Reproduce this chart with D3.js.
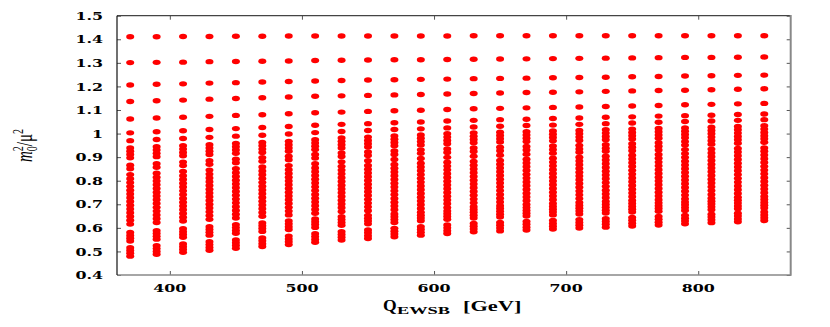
<!DOCTYPE html>
<html>
<head>
<meta charset="utf-8">
<script src="https://cdn.jsdelivr.net/npm/d3@7"></script>
<style>
    body { margin: 0; background: #fff; }
</style>
</head>
<body>
<div id="chart"></div>
<script>
// Q_EWSB columns (GeV)
const qValues = [370, 390, 410, 430, 450, 470, 490, 510, 530, 550, 570, 590, 610,
    630, 650, 670, 690, 710, 730, 750, 770, 790, 810, 830, 850];

const xTicks = [400, 500, 600, 700, 800];
const yTicks = [0.4, 0.5, 0.6, 0.7, 0.8, 0.9, 1.0, 1.1, 1.2, 1.3, 1.4, 1.5];

// m0^2/mu^2 for each scan point, traced across the Q columns
const top1 = [1.411, 1.411, 1.412, 1.412, 1.413, 1.413, 1.414, 1.414, 1.414, 1.414, 1.414, 1.414, 1.414,
    1.415, 1.415, 1.415, 1.415, 1.415, 1.415, 1.415, 1.415, 1.415, 1.415, 1.415, 1.415];
const top2 = [1.301, 1.302, 1.303, 1.305, 1.306, 1.307, 1.308, 1.310, 1.311, 1.312, 1.313, 1.313, 1.314,
    1.315, 1.316, 1.317, 1.318, 1.319, 1.320, 1.321, 1.322, 1.323, 1.323, 1.324, 1.325];
const top3 = [1.206, 1.209, 1.211, 1.214, 1.216, 1.219, 1.221, 1.223, 1.225, 1.227, 1.228, 1.230, 1.231,
    1.233, 1.234, 1.235, 1.237, 1.238, 1.239, 1.241, 1.242, 1.244, 1.245, 1.247, 1.248];
const top4 = [1.136, 1.139, 1.142, 1.146, 1.149, 1.152, 1.155, 1.158, 1.160, 1.162, 1.164, 1.166, 1.168,
    1.170, 1.172, 1.174, 1.175, 1.177, 1.179, 1.181, 1.183, 1.184, 1.186, 1.188, 1.190];
const top5 = [1.062, 1.066, 1.069, 1.073, 1.077, 1.080, 1.084, 1.088, 1.091, 1.094, 1.097, 1.099, 1.102,
    1.105, 1.107, 1.109, 1.111, 1.113, 1.115, 1.117, 1.119, 1.122, 1.124, 1.126, 1.128];
const top6 = [1.003, 1.008, 1.012, 1.017, 1.021, 1.026, 1.030, 1.035, 1.039, 1.042, 1.046, 1.049, 1.053,
    1.056, 1.059, 1.061, 1.064, 1.066, 1.069, 1.071, 1.074, 1.076, 1.078, 1.081, 1.083];
const top7 = [0.970, 0.975, 0.979, 0.984, 0.989, 0.993, 0.998, 1.004, 1.009, 1.013, 1.017, 1.020, 1.024,
    1.028, 1.031, 1.034, 1.036, 1.039, 1.042, 1.045, 1.048, 1.051, 1.053, 1.056, 1.059];

const upper1 = [0.939, 0.944, 0.948, 0.953, 0.958, 0.962, 0.967, 0.974, 0.981, 0.985, 0.990, 0.994, 0.999,
    1.003, 1.006, 1.008, 1.011, 1.013, 1.016, 1.019, 1.022, 1.024, 1.027, 1.030, 1.033];
const upper2 = [0.925, 0.930, 0.934, 0.939, 0.944, 0.948, 0.953, 0.960, 0.967, 0.971, 0.976, 0.980, 0.985,
    0.989, 0.992, 0.994, 0.997, 0.999, 1.002, 1.005, 1.008, 1.010, 1.013, 1.016, 1.019];
const upper3 = [0.911, 0.916, 0.920, 0.925, 0.930, 0.934, 0.939, 0.946, 0.953, 0.957, 0.962, 0.966, 0.971,
    0.975, 0.978, 0.980, 0.983, 0.985, 0.988, 0.991, 0.994, 0.996, 0.999, 1.002, 1.005];
const upper4 = [0.897, 0.902, 0.906, 0.911, 0.916, 0.920, 0.925, 0.932, 0.939, 0.943, 0.948, 0.952, 0.957,
    0.961, 0.964, 0.966, 0.969, 0.971, 0.974, 0.977, 0.980, 0.982, 0.985, 0.988, 0.991];

const mid1 = [0.866, 0.872, 0.879, 0.885, 0.891, 0.898, 0.904, 0.911, 0.918, 0.922, 0.926, 0.931, 0.935,
    0.939, 0.942, 0.945, 0.947, 0.950, 0.953, 0.957, 0.961, 0.966, 0.970, 0.974, 0.978];
const mid2 = [0.851, 0.857, 0.864, 0.870, 0.876, 0.883, 0.889, 0.896, 0.903, 0.907, 0.911, 0.916, 0.920,
    0.924, 0.927, 0.930, 0.932, 0.935, 0.938, 0.942, 0.946, 0.951, 0.955, 0.959, 0.963];
const knee = [0.826, 0.832, 0.839, 0.845, 0.851, 0.858, 0.864, 0.872, 0.880, 0.885, 0.890, 0.894, 0.899,
    0.904, 0.908, 0.912, 0.917, 0.921, 0.925, 0.927, 0.930, 0.932, 0.934, 0.937, 0.939];

// the dense band
const band0 = [0.808, 0.815, 0.821, 0.828, 0.834, 0.841, 0.847, 0.854, 0.861, 0.865, 0.869, 0.874, 0.878,
    0.882, 0.886, 0.891, 0.895, 0.900, 0.904, 0.908, 0.911, 0.915, 0.918, 0.922, 0.925];
const band1 = [0.792, 0.799, 0.805, 0.812, 0.818, 0.825, 0.831, 0.838, 0.845, 0.849, 0.853, 0.858, 0.862,
    0.866, 0.870, 0.875, 0.879, 0.884, 0.888, 0.892, 0.895, 0.899, 0.902, 0.906, 0.909];
const band2 = [0.776, 0.783, 0.789, 0.796, 0.802, 0.809, 0.815, 0.822, 0.829, 0.833, 0.837, 0.842, 0.846,
    0.850, 0.854, 0.859, 0.863, 0.868, 0.872, 0.876, 0.879, 0.883, 0.886, 0.890, 0.893];
const band3 = [0.760, 0.767, 0.773, 0.780, 0.786, 0.793, 0.799, 0.806, 0.813, 0.817, 0.821, 0.826, 0.830,
    0.834, 0.838, 0.843, 0.847, 0.852, 0.856, 0.860, 0.863, 0.867, 0.870, 0.874, 0.877];
const band4 = [0.744, 0.751, 0.757, 0.764, 0.770, 0.777, 0.783, 0.790, 0.797, 0.801, 0.805, 0.810, 0.814,
    0.818, 0.822, 0.827, 0.831, 0.836, 0.840, 0.844, 0.847, 0.851, 0.854, 0.858, 0.861];
const band5 = [0.728, 0.735, 0.741, 0.748, 0.754, 0.761, 0.767, 0.774, 0.781, 0.785, 0.789, 0.794, 0.798,
    0.802, 0.806, 0.811, 0.815, 0.820, 0.824, 0.828, 0.831, 0.835, 0.838, 0.842, 0.845];
const band6 = [0.712, 0.719, 0.725, 0.732, 0.738, 0.745, 0.751, 0.758, 0.765, 0.769, 0.773, 0.778, 0.782,
    0.786, 0.790, 0.795, 0.799, 0.804, 0.808, 0.812, 0.815, 0.819, 0.822, 0.826, 0.829];
const band7 = [0.696, 0.703, 0.709, 0.716, 0.722, 0.729, 0.735, 0.742, 0.749, 0.753, 0.757, 0.762, 0.766,
    0.770, 0.774, 0.779, 0.783, 0.788, 0.792, 0.796, 0.799, 0.803, 0.806, 0.810, 0.813];
const band8 = [0.680, 0.687, 0.693, 0.700, 0.706, 0.713, 0.719, 0.726, 0.733, 0.737, 0.741, 0.746, 0.750,
    0.754, 0.758, 0.763, 0.767, 0.772, 0.776, 0.780, 0.783, 0.787, 0.790, 0.794, 0.797];
const band9 = [0.664, 0.671, 0.677, 0.684, 0.690, 0.697, 0.703, 0.710, 0.717, 0.721, 0.725, 0.730, 0.734,
    0.738, 0.742, 0.747, 0.751, 0.756, 0.760, 0.764, 0.767, 0.771, 0.774, 0.778, 0.781];
const band10 = [0.648, 0.655, 0.661, 0.668, 0.674, 0.681, 0.687, 0.694, 0.701, 0.705, 0.709, 0.714, 0.718,
    0.722, 0.726, 0.731, 0.735, 0.740, 0.744, 0.748, 0.751, 0.755, 0.758, 0.762, 0.765];
const band11 = [0.632, 0.639, 0.645, 0.652, 0.658, 0.665, 0.671, 0.678, 0.685, 0.689, 0.693, 0.698, 0.702,
    0.706, 0.710, 0.715, 0.719, 0.724, 0.728, 0.732, 0.735, 0.739, 0.742, 0.746, 0.749];
const band12 = [0.616, 0.623, 0.629, 0.636, 0.642, 0.649, 0.655, 0.662, 0.669, 0.673, 0.677, 0.682, 0.686,
    0.690, 0.694, 0.699, 0.703, 0.708, 0.712, 0.716, 0.719, 0.723, 0.726, 0.730, 0.733];

// two small groups under the band
const low1 = [0.580, 0.588, 0.596, 0.605, 0.613, 0.621, 0.629, 0.638, 0.647, 0.653, 0.659, 0.666, 0.672,
    0.678, 0.682, 0.686, 0.691, 0.695, 0.699, 0.703, 0.706, 0.710, 0.713, 0.717, 0.720];
const low2 = [0.568, 0.576, 0.584, 0.593, 0.601, 0.609, 0.617, 0.626, 0.635, 0.641, 0.647, 0.654, 0.660,
    0.666, 0.670, 0.674, 0.679, 0.683, 0.687, 0.691, 0.694, 0.698, 0.701, 0.705, 0.708];
const low3 = [0.556, 0.564, 0.572, 0.581, 0.589, 0.597, 0.605, 0.614, 0.623, 0.629, 0.635, 0.642, 0.648,
    0.654, 0.658, 0.662, 0.667, 0.671, 0.675, 0.679, 0.682, 0.686, 0.689, 0.693, 0.696];
const low4 = [0.544, 0.552, 0.560, 0.569, 0.577, 0.585, 0.593, 0.602, 0.611, 0.617, 0.623, 0.630, 0.636,
    0.642, 0.646, 0.650, 0.655, 0.659, 0.663, 0.667, 0.670, 0.674, 0.677, 0.681, 0.684];
const floor1 = [0.516, 0.524, 0.532, 0.541, 0.549, 0.557, 0.565, 0.575, 0.584, 0.591, 0.598, 0.605, 0.612,
    0.619, 0.623, 0.627, 0.631, 0.635, 0.639, 0.644, 0.648, 0.653, 0.658, 0.662, 0.667];
const floor2 = [0.504, 0.512, 0.520, 0.529, 0.537, 0.545, 0.553, 0.563, 0.572, 0.579, 0.586, 0.593, 0.600,
    0.607, 0.611, 0.615, 0.619, 0.623, 0.627, 0.632, 0.636, 0.641, 0.646, 0.650, 0.655];
const floor3 = [0.492, 0.500, 0.508, 0.517, 0.525, 0.533, 0.541, 0.551, 0.560, 0.567, 0.574, 0.581, 0.588,
    0.595, 0.599, 0.603, 0.607, 0.611, 0.615, 0.620, 0.624, 0.629, 0.634, 0.638, 0.643];
const floor4 = [0.480, 0.488, 0.496, 0.505, 0.513, 0.521, 0.529, 0.539, 0.548, 0.555, 0.562, 0.569, 0.576,
    0.583, 0.587, 0.591, 0.595, 0.599, 0.603, 0.608, 0.612, 0.617, 0.622, 0.626, 0.631];

const allSeries = [top1, top2, top3, top4, top5, top6, top7,
    upper1, upper2, upper3, upper4, mid1, mid2, knee,
    band0, band1, band2, band3, band4, band5, band6, band7, band8, band9, band10, band11, band12,
    low1, low2, low3, low4, floor1, floor2, floor3, floor4];

const width = 830, height = 327;
const plot = { left: 117, right: 790.7, top: 15.7, bottom: 275 };
const stretch = 1.38; // glyphs in the original are drawn wide

const svg = d3.select("#chart").append("svg")
    .attr("width", width)
    .attr("height", height);

const x = d3.scaleLinear().domain([360, 870]).range([plot.left, plot.right]);
const y = d3.scaleLinear().domain([0.4, 1.5]).range([plot.bottom, plot.top]);

// points
const points = allSeries.flatMap(s => s.map((r, i) => ({ q: qValues[i], r: r })));
svg.append("g")
    .selectAll("ellipse")
    .data(points)
    .enter().append("ellipse")
    .attr("cx", d => x(d.q))
    .attr("cy", d => y(d.r))
    .attr("rx", 4)
    .attr("ry", 2.7)
    .attr("fill", "#ff0000");

// inward ticks on all four sides
const tickColor = "#555";
svg.append("g")
    .attr("transform", `translate(${plot.left},0)`)
    .call(d3.axisLeft(y).tickValues(yTicks).tickSize(-4).tickFormat(""))
    .call(g => g.select(".domain").remove())
    .call(g => g.selectAll("line").attr("stroke", tickColor));
svg.append("g")
    .attr("transform", `translate(${plot.right},0)`)
    .call(d3.axisRight(y).tickValues(yTicks).tickSize(-4).tickFormat(""))
    .call(g => g.select(".domain").remove())
    .call(g => g.selectAll("line").attr("stroke", tickColor));
svg.append("g")
    .attr("transform", `translate(0,${plot.bottom})`)
    .call(d3.axisBottom(x).tickValues(xTicks).tickSize(-4).tickFormat(""))
    .call(g => g.select(".domain").remove())
    .call(g => g.selectAll("line").attr("stroke", tickColor));
svg.append("g")
    .attr("transform", `translate(0,${plot.top})`)
    .call(d3.axisTop(x).tickValues(xTicks).tickSize(-4).tickFormat(""))
    .call(g => g.select(".domain").remove())
    .call(g => g.selectAll("line").attr("stroke", tickColor));

// frame
svg.append("line").attr("x1", plot.left).attr("x2", plot.right).attr("y1", plot.top).attr("y2", plot.top)
    .attr("stroke", "#444").attr("stroke-width", 1.2);
svg.append("line").attr("x1", plot.left).attr("x2", plot.right).attr("y1", plot.bottom).attr("y2", plot.bottom)
    .attr("stroke", "#888").attr("stroke-width", 1.5);
svg.append("line").attr("x1", plot.left).attr("x2", plot.left).attr("y1", plot.top).attr("y2", plot.bottom)
    .attr("stroke", "#111").attr("stroke-width", 1.2);
svg.append("line").attr("x1", plot.right).attr("x2", plot.right).attr("y1", plot.top - 0.6).attr("y2", plot.bottom + 0.7)
    .attr("stroke", "#888").attr("stroke-width", 2);

// tick labels
svg.append("g").selectAll("g")
    .data(yTicks)
    .enter().append("g")
    .attr("transform", d => `translate(103,${y(d) + 4.2}) scale(${stretch},1)`)
    .append("text")
    .attr("text-anchor", "end")
    .attr("font-family", "DejaVu Serif")
    .attr("font-weight", "bold")
    .attr("font-size", 11.5)
    .attr("fill", "#000")
    .text(d => String(+d.toFixed(1)));

svg.append("g").selectAll("g")
    .data(xTicks)
    .enter().append("g")
    .attr("transform", d => `translate(${x(d)},292) scale(${stretch},1)`)
    .append("text")
    .attr("text-anchor", "middle")
    .attr("font-family", "DejaVu Serif")
    .attr("font-weight", "bold")
    .attr("font-size", 11.5)
    .attr("fill", "#000")
    .text(d => d);

// x axis title: Q_EWSB [GeV]
const xTitle = svg.append("g")
    .attr("fill", "#000")
    .attr("font-family", "Liberation Serif")
    .attr("font-weight", "bold");
xTitle.append("text")
    .attr("transform", "translate(383,311) scale(1.1,1)")
    .attr("font-size", 16)
    .text("Q");
xTitle.append("text")
    .attr("transform", "translate(397,314) scale(1.75,1)")
    .attr("font-size", 10.5)
    .text("EWSB");
xTitle.append("text")
    .attr("transform", "translate(463,311) scale(1.6,1)")
    .attr("font-size", 14)
    .text("[GeV]");

// y axis title: m0^2/mu^2
const yTitle = svg.append("g")
    .attr("transform", `translate(32,162) scale(1.5,1) rotate(-90)`)
    .append("text")
    .attr("font-size", 15)
    .attr("font-family", "Liberation Serif")
    .attr("fill", "#000");
yTitle.append("tspan").attr("font-style", "italic").text("m");
yTitle.append("tspan").attr("font-size", 10).attr("dy", 3).text("0");
yTitle.append("tspan").attr("font-size", 10).attr("dx", -5).attr("dy", -9).text("2");
yTitle.append("tspan").attr("dy", 6).text("/μ");
yTitle.append("tspan").attr("font-size", 10).attr("dy", -6).text("2");
</script>
</body>
</html>
